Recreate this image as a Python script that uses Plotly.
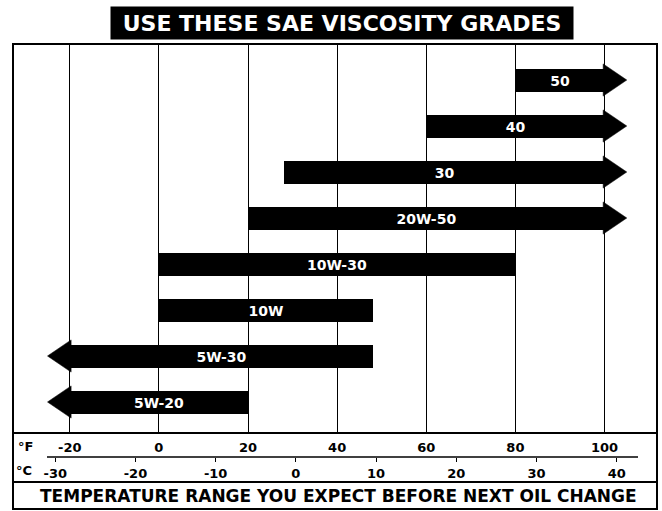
import plotly.graph_objects as go

# ---- data ----
grades = ["5W-20", "5W-30", "10W", "10W-30", "20W-50", "30", "40", "50"]
low_f = [-20, -20, 0, 0, 20, 28, 60, 80]
high_f = [20, 48, 48, 80, 100, 100, 100, 100]
open_low = [True, True, False, False, False, False, False, False]
open_high = [False, False, False, False, True, True, True, True]
f_ticks = [-20, 0, 20, 40, 60, 80, 100]
c_ticks = [-30, -20, -10, 0, 10, 20, 30, 40]

title_text = "USE THESE SAE VISCOSITY GRADES"
bottom_text = "TEMPERATURE RANGE YOU EXPECT BEFORE NEXT OIL CHANGE"

# ---- style ----
W, H = 662, 511
ML, MR, MT, MB = 13, 5, 44, 2
PLOT_BOTTOM_PX = 433
F_LEFT, F_RIGHT = -32.74, 111.78
Y_RANGE = [-0.674, 7.783]
HEAD_LEN = 5.0
HEAD_HALF = 0.35
BODY_W = 0.5
FONT = "DejaVu Sans"

paper_h = H - MT - MB
paper_w = W - ML - MR


def py(px):
    return (H - MB - px) / paper_h


def pxx(px):
    return (px - ML) / paper_w


rows = list(range(len(grades)))

fig = go.Figure()

# bar bodies
fig.add_trace(go.Bar(
    y=rows,
    base=low_f,
    x=[h - l for l, h in zip(low_f, high_f)],
    orientation="h",
    width=BODY_W,
    marker=dict(color="black", line=dict(width=0)),
    text=grades,
    textposition="inside",
    insidetextanchor="middle",
    textangle=0,
    constraintext="none",
    textfont=dict(family=FONT, size=14, color="white", weight="bold"),
    hoverinfo="skip",
    showlegend=False,
))

# arrow heads
for r, l, h, ol, oh in zip(rows, low_f, high_f, open_low, open_high):
    if oh:
        fig.add_trace(go.Scatter(
            x=[h - 0.3, h + HEAD_LEN, h - 0.3, h - 0.3],
            y=[r - HEAD_HALF, r, r + HEAD_HALF, r - HEAD_HALF],
            mode="lines", fill="toself", fillcolor="black",
            line=dict(color="black", width=0.5),
            hoverinfo="skip", showlegend=False))
    if ol:
        fig.add_trace(go.Scatter(
            x=[l + 0.3, l - HEAD_LEN, l + 0.3, l + 0.3],
            y=[r - HEAD_HALF, r, r + HEAD_HALF, r - HEAD_HALF],
            mode="lines", fill="toself", fillcolor="black",
            line=dict(color="black", width=0.5),
            hoverinfo="skip", showlegend=False))

# invisible trace for Celsius axis
fig.add_trace(go.Scatter(x=c_ticks, y=[0] * len(c_ticks), xaxis="x2",
                         mode="markers", opacity=0, hoverinfo="skip",
                         showlegend=False))

c_shift = 0.7
fig.update_layout(
    width=W, height=H,
    margin=dict(l=ML, r=MR, t=MT, b=MB, pad=0),
    paper_bgcolor="white", plot_bgcolor="white",
    bargap=0,
    xaxis=dict(
        range=[F_LEFT, F_RIGHT], tickvals=f_ticks,
        ticktext=[str(v) for v in f_ticks],
        showgrid=True, gridcolor="black", gridwidth=1,
        zeroline=False, showline=False, ticks="",
        ticklabelstandoff=5,
        tickfont=dict(family=FONT, size=13, color="black", weight="bold"),
        anchor="y",
    ),
    xaxis2=dict(
        range=[(F_LEFT - 32) / 1.8 + c_shift, (F_RIGHT - 32) / 1.8 + c_shift],
        overlaying="x", anchor="free", position=py(457), side="bottom",
        tickvals=c_ticks, ticktext=[str(v) for v in c_ticks],
        showgrid=False, zeroline=False, showline=False,
        ticks="outside", ticklen=4, tickcolor="black", tickwidth=1,
        ticklabelstandoff=0,
        tickfont=dict(family=FONT, size=13, color="black", weight="bold"),
    ),
    yaxis=dict(
        range=Y_RANGE, domain=[py(PLOT_BOTTOM_PX), 1],
        showgrid=False, zeroline=False, showticklabels=False, ticks="",
    ),
    shapes=[
        dict(type="rect", xref="paper", yref="paper", x0=0, x1=1, y0=0, y1=1,
             line=dict(color="black", width=2)),
        dict(type="line", xref="paper", yref="paper", x0=0, x1=1,
             y0=py(PLOT_BOTTOM_PX), y1=py(PLOT_BOTTOM_PX),
             line=dict(color="black", width=2)),
        dict(type="line", xref="paper", yref="paper", x0=pxx(47), x1=pxx(638),
             y0=py(457), y1=py(457), line=dict(color="black", width=1.5)),
        dict(type="line", xref="paper", yref="paper", x0=0, x1=1,
             y0=py(482), y1=py(482), line=dict(color="black", width=2)),
    ],
    annotations=[
        dict(text=title_text, xref="paper", yref="paper",
             x=pxx(342), y=py(23), xanchor="center", yanchor="middle",
             showarrow=False, bgcolor="black", width=460, height=30,
             font=dict(family=FONT, size=22, color="white", weight="bold")),
        dict(text="°F", xref="paper", yref="paper", x=pxx(16), y=py(446),
             xanchor="left", yanchor="middle", showarrow=False,
             font=dict(family=FONT, size=13, color="black", weight="bold")),
        dict(text="°C", xref="paper", yref="paper", x=pxx(14), y=py(470),
             xanchor="left", yanchor="middle", showarrow=False,
             font=dict(family=FONT, size=13, color="black", weight="bold")),
        dict(text=bottom_text, xref="paper", yref="paper", x=pxx(338), y=py(496),
             xanchor="center", yanchor="middle", showarrow=False,
             font=dict(family=FONT, size=17, color="black", weight="bold")),
    ],
)

fig.write_html("out.html",
               config={"displayModeBar": False},
               post_script="document.body.style.margin='0px';"
                           "document.body.style.overflow='hidden';")
